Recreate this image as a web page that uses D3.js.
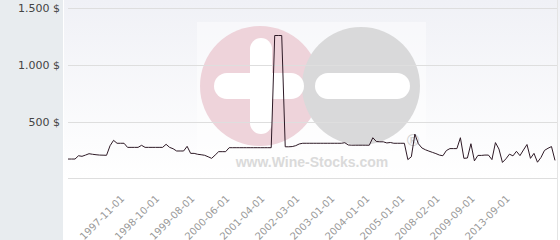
<!DOCTYPE html>
<html>
<head>
<meta charset="utf-8">
<script src="https://cdn.jsdelivr.net/npm/d3@7"></script>
<style>
	body { margin: 0; background: #fff; }
	svg { display: block; }
</style>
</head>
<body>
<div id="chart"></div>
<script>
//	Prices, one per auction month
var prices = [170, 170, 170, 199, 194, 205, 217, 212, 208, 205,
	204, 203, 287, 335, 309, 309, 309, 273, 273, 273,
	273, 291, 273, 273, 273, 273, 273, 273, 300, 273,
	261, 241, 241, 241, 282, 220, 220, 212, 208, 203,
	190, 176, 205, 235, 235, 235, 270, 270, 270, 270,
	270, 270, 270, 270, 270, 270, 270, 270, 270, 1260,
	1260, 1260, 278, 278, 280, 288, 303, 309, 309, 309,
	309, 309, 309, 309, 309, 309, 309, 309, 309, 314,
	294, 292, 292, 292, 292, 292, 292, 358, 325, 322,
	322, 312, 316, 309, 309, 309, 309, 165, 190, 390,
	305, 268, 252, 240, 229, 218, 205, 199, 245, 262,
	262, 262, 358, 176, 179, 305, 154, 202, 202, 205,
	205, 165, 315, 258, 140, 172, 213, 198, 238, 200,
	250, 298, 176, 220, 142, 184, 246, 265, 280, 158];

var tickIndex = [17, 27, 37, 47, 57, 67, 77, 87, 97, 107, 117, 127];
var tickLabels = ["1997-11-01", "1998-10-01", "1999-08-01", "2000-06-01",
	"2001-04-01", "2002-03-01", "2003-01-01", "2004-01-01",
	"2005-01-01", "2008-02-01", "2009-09-01", "2013-09-01"];
var yTicks = [500, 1000, 1500];

var W = 560, H = 240,
	panelW = 63,
	plotL = 68, plotR = 555,
	plotT = 8.3, plotB = 178.3;

var svg = d3.select("#chart")
	.append("svg")
	.attr("width", W)
	.attr("height", H);

var x = d3.scaleLinear().domain([0, prices.length - 1]).range([plotL, plotR]);
var y = d3.scaleLinear().domain([0, 1500]).range([plotB, plotT]);

background();
watermark();
grid();
xAxis();
priceLine();

function background() {
	var grad = svg.append("defs").append("linearGradient")
		.attr("id", "plotbg")
		.attr("x1", 0).attr("y1", 0)
		.attr("x2", 0).attr("y2", 1);
	grad.append("stop").attr("offset", "0%").attr("stop-color", "#f0f1f6");
	grad.append("stop").attr("offset", "100%").attr("stop-color", "#ffffff");

	svg.append("rect")
		.attr("x", panelW)
		.attr("y", 0)
		.attr("width", W - panelW)
		.attr("height", plotB)
		.attr("fill", "url(#plotbg)");

	//	Left panel behind the price labels
	svg.append("rect")
		.attr("x", 0)
		.attr("y", 0)
		.attr("width", panelW)
		.attr("height", H)
		.attr("fill", "#e8ecef");

	svg.append("line")
		.attr("x1", panelW + 0.5).attr("x2", panelW + 0.5)
		.attr("y1", 0).attr("y2", H)
		.attr("stroke", "#fff");

	svg.append("line")
		.attr("x1", 557.5).attr("x2", 557.5)
		.attr("y1", 0).attr("y2", H)
		.attr("stroke", "#e4e4e4");
}

function watermark() {
	var g = svg.append("g");

	g.append("rect")
		.attr("x", 197).attr("y", 22)
		.attr("width", 229).attr("height", 153)
		.attr("fill", "#fff")
		.attr("fill-opacity", 0.45);

	g.append("circle")
		.attr("cx", 260).attr("cy", 86).attr("r", 60)
		.attr("fill", "#eed3da");

	g.append("circle")
		.attr("cx", 361).attr("cy", 86).attr("r", 59)
		.attr("fill", "#d9d9da");

	//	Plus
	g.append("rect")
		.attr("x", 250).attr("y", 38)
		.attr("width", 22).attr("height", 96)
		.attr("rx", 11)
		.attr("fill", "#fff");
	g.append("rect")
		.attr("x", 214).attr("y", 73)
		.attr("width", 90).attr("height", 26)
		.attr("rx", 13)
		.attr("fill", "#fff");

	//	Minus
	g.append("rect")
		.attr("x", 315).attr("y", 73)
		.attr("width", 95).attr("height", 26)
		.attr("rx", 13)
		.attr("fill", "#fff");

	g.append("text")
		.attr("x", 312).attr("y", 167)
		.attr("text-anchor", "middle")
		.attr("font-family", "Liberation Sans, Arial, sans-serif")
		.attr("font-weight", "bold")
		.attr("font-size", 14)
		.attr("fill", "#dadada")
		.text("www.Wine-Stocks.com");

	g.append("text")
		.attr("x", 413).attr("y", 146)
		.attr("text-anchor", "middle")
		.attr("font-family", "Liberation Sans, Arial, sans-serif")
		.attr("font-weight", "bold")
		.attr("font-size", 17)
		.attr("fill", "#d4d4d4")
		.text("®");
}

function grid() {
	var g = svg.append("g");

	g.selectAll("line")
		.data([0].concat(yTicks))
		.enter().append("line")
		.attr("x1", plotL)
		.attr("x2", 557)
		.attr("y1", function(d) { return Math.round(y(d)) + 0.5; })
		.attr("y2", function(d) { return Math.round(y(d)) + 0.5; })
		.attr("stroke", "#dedede");

	g.selectAll("text")
		.data(yTicks)
		.enter().append("text")
		.attr("x", 60)
		.attr("y", function(d) { return y(d) + 4; })
		.attr("text-anchor", "end")
		.attr("font-family", "DejaVu Sans, Verdana, sans-serif")
		.attr("font-size", 11)
		.attr("fill", "#444")
		.text(function(d) { return d3.format(",")(d).replace(",", ".") + " $"; });
}

function xAxis() {
	var axis = d3.axisBottom(x)
		.tickValues(tickIndex)
		.tickSize(0)
		.tickFormat(function(d, i) { return tickLabels[i]; });

	var g = svg.append("g")
		.attr("transform", "translate(0," + plotB + ")")
		.call(axis);

	g.select(".domain").remove();

	g.selectAll("text")
		.attr("font-family", "DejaVu Sans, Verdana, sans-serif")
		.attr("font-size", 10)
		.attr("fill", "#999")
		.attr("text-anchor", "end")
		.attr("x", 0)
		.attr("y", 0)
		.attr("dy", 0)
		.attr("transform", "translate(-3,21) rotate(-45)");
}

function priceLine() {
	var line = d3.line()
		.x(function(d, i) { return x(i); })
		.y(function(d) { return y(d); });

	svg.append("path")
		.datum(prices)
		.attr("d", line)
		.attr("fill", "none")
		.attr("stroke", "#2e1a26")
		.attr("stroke-width", 1)
		.attr("stroke-linejoin", "round");
}
</script>
</body>
</html>
